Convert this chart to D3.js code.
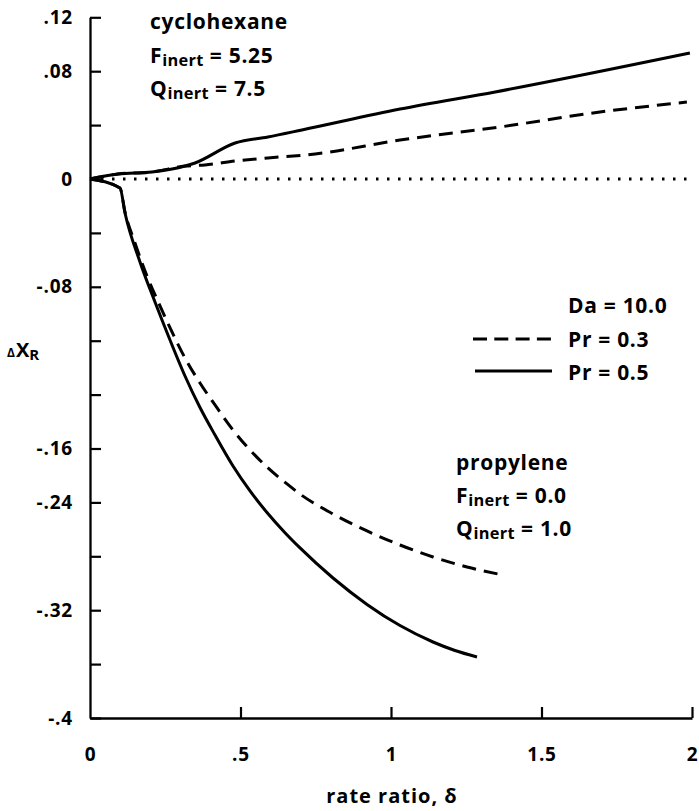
<!DOCTYPE html>
<html>
<head>
<meta charset="utf-8">
<script src="https://cdn.jsdelivr.net/npm/d3@7"></script>
<style>
  html, body { margin: 0; padding: 0; background: #fff; }
  svg text { font-family: "Open Sans", "Liberation Sans", sans-serif; font-weight: 700; fill: #000; }
</style>
</head>
<body>
<svg id="chart" width="699" height="811"></svg>
<script>
// Axis ticks and their printed labels
const rateRatioTicks = [0, 0.5, 1, 1.5, 2];
const rateRatioTickLabels = ["0", ".5", "1", "1.5", "2"];
const deltaXTicks = [0.12, 0.08, 0.04, 0, -0.04, -0.08, -0.12, -0.16, -0.20, -0.24, -0.28, -0.32, -0.36, -0.40];
const deltaXTickLabels = [".12", ".08", "", "0", "", "-.08", "", "", "-.16", "-.24", "", "-.32", "", "-.4"];

// cyclohexane (Finert = 5.25, Qinert = 7.5): [rate ratio, ΔX_R]
const cyclohexanePr05 = [[0, 0], [0.093, 0.0037], [0.206, 0.0052], [0.316, 0.0096], [0.349, 0.0119],
  [0.482, 0.0267], [0.591, 0.0312], [0.704, 0.0364], [1.03, 0.0519], [1.346, 0.0646], [1.993, 0.0935]];
const cyclohexanePr03 = [[0, 0], [0.093, 0.0037], [0.206, 0.0052], [0.316, 0.0096], [0.382, 0.0104],
  [0.482, 0.0134], [0.591, 0.0156], [0.748, 0.0186], [1.03, 0.0289], [1.362, 0.0386], [1.694, 0.0497], [1.983, 0.0571]];

// propylene (Finert = 0.0, Qinert = 1.0)
const propylenePr05 = [[0, 0], [0.0997, -0.0067], [0.1163, -0.0252], [0.1661, -0.0616], [0.2159, -0.0913],
  [0.2658, -0.1195], [0.3156, -0.1462], [0.3654, -0.1696], [0.4153, -0.1900], [0.4751, -0.2130],
  [0.5316, -0.2315], [0.5880, -0.2475], [0.6478, -0.2625], [0.6977, -0.2738], [0.8073, -0.2961],
  [0.9203, -0.3157], [1.0299, -0.3314], [1.1395, -0.3436], [1.2126, -0.3499], [1.2857, -0.3547]];
const propylenePr03 = [[0, 0], [0.0997, -0.0067], [0.1163, -0.0245], [0.1495, -0.0475], [0.1894, -0.0720],
  [0.2326, -0.0942], [0.2724, -0.1135], [0.3156, -0.1328], [0.3654, -0.1514], [0.4153, -0.1677],
  [0.4751, -0.1863], [0.5316, -0.2011], [0.5880, -0.2137], [0.6545, -0.2263], [0.6977, -0.2338],
  [0.8073, -0.2486], [0.9203, -0.2612], [1.0299, -0.2716], [1.1395, -0.2805], [1.2525, -0.2879], [1.3721, -0.2939]];

// reference line at zero change
const zeroLine = [[0, 0], [2, 0]];

const svg = d3.select("#chart");

const x = d3.scaleLinear().domain([0, 2]).range([90, 692]);
const y = d3.scaleLinear().domain([-0.4, 0.12]).range([718, 17.3]);

// y axis: inward ticks, labels on the left
const yAxis = d3.axisLeft(y)
  .tickValues(deltaXTicks)
  .tickSizeInner(-11)
  .tickSizeOuter(0)
  .tickPadding(17)
  .tickFormat((d, i) => deltaXTickLabels[i]);

const gy = svg.append("g").attr("transform", `translate(${x(0)},0)`).call(yAxis);

// x axis: inward (upward) ticks
const xAxis = d3.axisBottom(x)
  .tickValues(rateRatioTicks)
  .tickSizeInner(-11)
  .tickSizeOuter(0)
  .tickPadding(30)
  .tickFormat((d, i) => rateRatioTickLabels[i]);

const gx = svg.append("g").attr("transform", `translate(0,${y(-0.4)})`).call(xAxis);

[gx, gy].forEach(g => {
  g.select(".domain").attr("stroke", "#000").attr("stroke-width", 2.3);
  g.selectAll(".tick line").attr("stroke", "#000").attr("stroke-width", 2.2);
  g.selectAll(".tick text").attr("font-size", 19).attr("font-family", null)
    .attr("fill", "#000").style("letter-spacing", "0.8px");
});
gx.select(".tick line").remove();

const line = d3.line().x(d => x(d[0])).y(d => y(d[1])).curve(d3.curveMonotoneX);

svg.append("path").datum(zeroLine)
  .attr("d", d3.line().x(d => x(d[0])).y(d => y(d[1])))
  .attr("fill", "none").attr("stroke", "#000").attr("stroke-width", 3)
  .attr("stroke-dasharray", "2.5,8.5");

const curves = [
  { data: cyclohexanePr03, dash: "14,8" },
  { data: cyclohexanePr05, dash: null },
  { data: propylenePr03, dash: "14,8" },
  { data: propylenePr05, dash: null }
];
curves.forEach(c => {
  svg.append("path").datum(c.data)
    .attr("d", line)
    .attr("fill", "none")
    .attr("stroke", "#000")
    .attr("stroke-width", 3)
    .attr("stroke-linejoin", "round")
    .attr("stroke-dasharray", c.dash);
});

// text helper with subscript support
function label(xp, yp, parts, size) {
  const t = svg.append("text").attr("x", xp).attr("y", yp).attr("font-size", size)
    .style("letter-spacing", "0.7px");
  parts.forEach(p => {
    const s = t.append("tspan").text(p.t);
    if (p.sub) s.attr("font-size", size * 0.78).attr("dy", 3).style("letter-spacing", "0.3px");
    else if (p.back) s.attr("dy", -3);
  });
  return t;
}

// annotation blocks
const fs = 21;
label(150, 29, [{ t: "cyclohexane" }], fs);
label(150, 63, [{ t: "F" }, { t: "inert", sub: true }, { t: " = 5.25", back: true }], fs);
label(150, 96, [{ t: "Q" }, { t: "inert", sub: true }, { t: " = 7.5", back: true }], fs);

label(456, 470, [{ t: "propylene" }], fs);
label(456, 503, [{ t: "F" }, { t: "inert", sub: true }, { t: " = 0.0", back: true }], fs);
label(456, 536, [{ t: "Q" }, { t: "inert", sub: true }, { t: " = 1.0", back: true }], fs);

// legend
label(568, 313, [{ t: "Da = 10.0" }], fs);
label(568, 347, [{ t: "Pr = 0.3" }], fs);
label(568, 380, [{ t: "Pr = 0.5" }], fs);
svg.append("line").attr("x1", 473).attr("x2", 551).attr("y1", 339).attr("y2", 339)
  .attr("stroke", "#000").attr("stroke-width", 3).attr("stroke-dasharray", "14,7.3");
svg.append("line").attr("x1", 475).attr("x2", 552).attr("y1", 371).attr("y2", 371)
  .attr("stroke", "#000").attr("stroke-width", 3);

// axis titles
const yt = svg.append("text").attr("x", 7).attr("y", 357).attr("font-size", 20);
yt.append("tspan").text("Δ").attr("font-size", 12);
yt.append("tspan").text("X").attr("dx", 1);
yt.append("tspan").text("R").attr("font-size", 15).attr("dy", 3);

svg.append("text").attr("x", 392).attr("y", 803).attr("font-size", 20)
  .attr("text-anchor", "middle").style("letter-spacing", "1px").text("rate ratio, δ");
</script>
</body>
</html>
